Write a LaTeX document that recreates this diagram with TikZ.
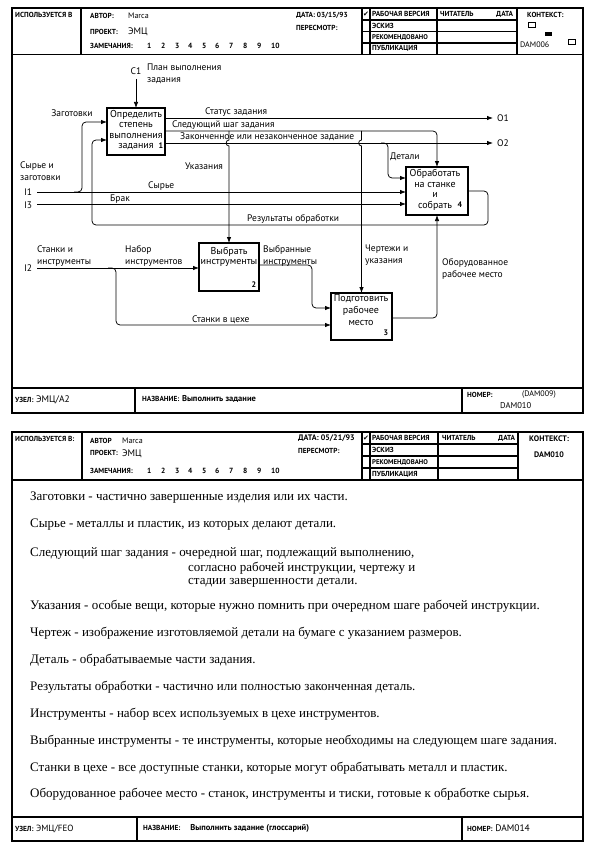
\documentclass[tikz,border=0pt]{standalone}
\usepackage{fontspec}
\setmainfont{PT Sans}
\newfontfamily\gfont{Liberation Serif}
\newfontfamily\symfont{DejaVu Sans}
\usetikzlibrary{arrows.meta}
\begin{document}
\begin{tikzpicture}[x=1pt,y=-1pt,
  frame/.style={line width=1.1pt},
  thinln/.style={line width=0.7pt},
  hdr/.style={font=\fontsize{7.3}{8}\selectfont\bfseries, anchor=west, inner sep=0pt},
  hval/.style={font=\fontsize{8}{9}\selectfont, anchor=west, inner sep=0pt},
  lbl/.style={font=\fontsize{9.5}{11.5}\selectfont, anchor=west, inner sep=0pt, align=left},
  boxtxt/.style={font=\fontsize{10}{10.5}\selectfont, align=center, inner sep=0pt},
  num/.style={font=\fontsize{8}{8}\selectfont\bfseries, inner sep=0pt},
  func/.style={draw, line width=1.2pt, inner sep=0pt, outer sep=0pt},
  arr/.style={line width=0.75pt, -{Latex[length=6pt,width=4.5pt]}},
  gl/.style={font=\gfont\fontsize{13}{14}\selectfont, anchor=west, inner sep=0pt},
  chk/.style={font=\symfont\fontsize{7}{7}\selectfont, inner sep=0pt},
]
\useasboundingbox (0,0) rectangle (593,848);
\fill[white] (0,0) rectangle (593,848);

% ================= TOP FRAME =================
\draw[frame] (12,8) rectangle (583,413);
\draw[frame] (12,54.5) -- (583,54.5);
\draw[frame] (12,388) -- (583,388);
\draw[frame] (81,8) -- (81,54.5);
\draw[frame] (362,8) -- (362,54.5);
\draw[frame] (370,8) -- (370,54.5);
\draw[frame] (437,8) -- (437,54.5);
\draw[frame] (517,8) -- (517,54.5);
\draw[frame] (362,20) -- (517,20);
\draw[frame] (362,31.5) -- (517,31.5);
\draw[frame] (362,43) -- (517,43);
\draw[frame] (135,388) -- (135,413);
\draw[frame] (462,388) -- (462,413);

\node[hdr] (tu) at (15,15) {ИСПОЛЬЗУЕТСЯ В};
\node[hdr] (ta) at (90,16) {АВТОР:};
\node[hval] (tav) at (128,16) {Marca};
\node[hdr] (tp) at (90,32) {ПРОЕКТ:};
\node[hval, font=\fontsize{9.5}{10}\selectfont] (tpv) at (128,32) {ЭМЦ};
\node[hdr] (tz) at (90,46) {ЗАМЕЧАНИЯ:};
\foreach \n/\x in {1/147,2/161,3/175,4/188,5/202,6/215,7/229,8/243,9/257,10/271}
  \node[hdr, font=\fontsize{7.5}{8}\selectfont\bfseries] (tzn\n) at (\x,46) {\n};
\node[hdr] (td) at (296,15) {ДАТА: 03/15/93};
\node[hdr] (tr) at (296,28) {ПЕРЕСМОТР:};
\node[chk] (tchk) at (366,14) {✔};
\node[hdr] (ts1) at (372,14) {РАБОЧАЯ ВЕРСИЯ};
\node[hdr] (ts2) at (372,25.7) {ЭСКИЗ};
\node[hdr, font=\fontsize{6.8}{7}\selectfont\bfseries] (ts3) at (372,37.2) {РЕКОМЕНДОВАНО};
\node[hdr] (ts4) at (372,48.7) {ПУБЛИКАЦИЯ};
\node[hdr] (trd) at (440,14) {ЧИТАТЕЛЬ};
\node[hdr] (trdd) at (496,14) {ДАТА};
\node[hdr] (tk) at (527,15) {КОНТЕКСТ:};
\draw[thinln] (528,22) rectangle (535,27);
\fill (545,32) rectangle (552,36);
\draw[thinln] (568,39) rectangle (575,44);
\node[hval] (tkv) at (520,45) {DAM006};

\node[anchor=west, inner sep=0pt] (tf1) at (15,400) {{\fontsize{7.3}{8}\selectfont\bfseries УЗЕЛ:}\ {\fontsize{9.5}{10}\selectfont ЭМЦ/A2}};
\node[anchor=west, inner sep=0pt] (tf2) at (142,399) {{\fontsize{7.3}{8}\selectfont\bfseries НАЗВАНИЕ:}\ {\fontsize{8.5}{9}\selectfont\bfseries Выполнить задание}};
\node[hdr] (tf3) at (467,395) {НОМЕР:};
\node[hval] (tf4) at (522,395) {(DAM009)};
\node[hval, font=\fontsize{8.5}{9}\selectfont] (tf5) at (500,406) {DAM010};

% ---- function boxes ----
\node[func, minimum width=58pt, minimum height=47pt] (b1) at (136,131.5) {};
\node[func, minimum width=62pt, minimum height=48pt] (b4) at (437,191) {};
\node[func, minimum width=60pt, minimum height=48pt] (b2) at (229,267) {};
\node[func, minimum width=61pt, minimum height=47pt] (b3) at (361.5,316.5) {};

\node[boxtxt] (t1) at (136,130) {Определить\\степень\\выполнения\\задания};
\node[num] (n1) at (161,146) {1};
\node[boxtxt] (t4) at (435,190) {Обработать\\на станке\\и\\собрать};
\node[num] (n4) at (460,205) {4};
\node[boxtxt] (t2) at (229,257) {Выбрать\\инструменты};
\node[num] (n2) at (254,285) {2};
\node[boxtxt, font=\fontsize{10}{12}\selectfont] (t3) at (361,310) {Подготовить\\рабочее\\место};
\node[num] (n3) at (386,333) {3};

% ---- boundary coordinates ----
\coordinate (c1) at (136,79);
\coordinate (i1) at (37,192);
\coordinate (i3) at (37,204);
\coordinate (i2) at (37,268);
\coordinate (o1) at (493,118);
\coordinate (o2) at (493,143);
\coordinate (nxt) at (437,131);
\coordinate (zg) at (82,122);
\coordinate (det) at (388,178);
\coordinate (sc) at (116,325);
\coordinate (vi) at (312,265);
\coordinate (vi2) at (312,308);
\coordinate (ob) at (437,318);
\coordinate (r1) at (488,191);
\coordinate (r2) at (488,225);
\coordinate (r3) at (92,225);
\coordinate (r4) at (92,140);

% ---- connectors ----
\draw[arr] (c1) -- (b1.north);
\draw[arr] (i1) -- (i1 -| b4.west);
\draw[arr] (i3) -- (i3 -| b4.west);
\draw[arr] (i2) -- (i2 -| b2.west);
\draw[arr, rounded corners=4pt] (74,192) -| (zg) -- (b1.west |- zg);
\draw[arr, rounded corners=4pt] (108,268) -| (sc) -- (b3.west |- sc);
\draw[arr] (b1.east |- o1) -- (o1);
\draw[arr] (b1.east |- o2) -- (o2);
\draw[arr, rounded corners=4pt] (b1.east |- nxt) -- (nxt) -- (b4.north);
\draw[arr] (b2.north |- nxt) -- (229,140) to[out=180,in=180,looseness=1.6] (229,146) -- (b2.north);
\draw[arr] (b3.north |- nxt) -- (361.5,140) to[out=180,in=180,looseness=1.6] (361.5,146) -- (b3.north);
\draw[arr, rounded corners=4pt] (381,143) -| (det) -- (b4.west |- det);
\draw[arr, rounded corners=4pt] (b2.east |- vi) -- (vi) -- (vi2) -- (b3.west |- vi2);
\draw[arr, rounded corners=4pt] (b3.east |- ob) -- (ob) -- (b4.south);
\draw[arr, rounded corners=4pt] (b4.east |- r1) -- (r1) -- (r2) -- (r3) -- (r4) -- (b1.west |- r4);

% ---- labels ----
\node[lbl, anchor=center] (lc1) at (136,71) {C1};
\node[lbl, anchor=north west] (lplan) at (147,64) {План выполнения\\задания};
\node[lbl, anchor=center] (lzag) at (72,113) {Заготовки};
\node[lbl] (lsz) at (20,171) {Сырье и\\заготовки};
\node[lbl, anchor=center] (li1) at (28,192) {I1};
\node[lbl, anchor=center] (li3) at (28,205) {I3};
\node[lbl, anchor=center] (li2) at (28,268) {I2};
\node[lbl] (lst) at (205,112) {Статус задания};
\node[lbl] (lsl) at (172,125) {Следующий шаг задания};
\node[lbl] (lzak) at (180,137) {Законченное или незаконченное задание};
\node[lbl] (lsyr) at (148,186) {Сырье};
\node[lbl] (lbr) at (110,199) {Брак};
\node[lbl] (luk) at (185,166) {Указания};
\node[lbl] (ldet) at (390,157) {Детали};
\node[lbl] (lo1) at (497,118) {O1};
\node[lbl] (lo2) at (497,143) {O2};
\node[lbl] (lres) at (247,219) {Результаты обработки};
\node[lbl] (lsi) at (37,256) {Станки и\\инструменты};
\node[lbl] (lnab) at (125,256) {Набор\\инструментов};
\node[lbl] (lvyb) at (263,256) {Выбранные\\инструменты};
\node[lbl] (lche) at (365,255) {Чертежи и\\указания};
\node[lbl] (lobo) at (442,269) {Оборудованное\\рабочее место};
\node[lbl] (lstc) at (192,320) {Станки в цехе};

% ================= BOTTOM FRAME =================
\draw[frame] (12,432) rectangle (583,841);
\draw[frame] (12,480) -- (583,480);
\draw[frame] (12,817) -- (583,817);
\draw[frame] (82,432) -- (82,480);
\draw[frame] (362,432) -- (362,480);
\draw[frame] (370,432) -- (370,480);
\draw[frame] (438,432) -- (438,480);
\draw[frame] (518,432) -- (518,480);
\draw[frame] (362,444) -- (518,444);
\draw[frame] (362,456) -- (518,456);
\draw[frame] (362,468) -- (518,468);
\draw[frame] (137,817) -- (137,841);
\draw[frame] (462,817) -- (462,841);

\node[hdr] (bu) at (15,439) {ИСПОЛЬЗУЕТСЯ В:};
\node[hdr] (ba) at (90,441) {АВТОР};
\node[hval] (bav) at (122,441) {Marca};
\node[hdr] (bp) at (90,453) {ПРОЕКТ:};
\node[hval, font=\fontsize{9.5}{10}\selectfont] (bpv) at (122,454) {ЭМЦ};
\node[hdr] (bz) at (90,471) {ЗАМЕЧАНИЯ:};
\foreach \n/\x in {1/147,2/161,3/175,4/188,5/202,6/215,7/229,8/243,9/257,10/271}
  \node[hdr, font=\fontsize{7.5}{8}\selectfont\bfseries] (bzn\n) at (\x,471) {\n};
\node[hdr, font=\fontsize{8}{9}\selectfont\bfseries] (bd) at (298,438) {ДАТА: 05/21/93};
\node[hdr] (br) at (298,451) {ПЕРЕСМОТР:};
\node[chk] (bchk) at (366,438) {✔};
\node[hdr] (bs1) at (372,438) {РАБОЧАЯ ВЕРСИЯ};
\node[hdr] (bs2) at (372,450) {ЭСКИЗ};
\node[hdr, font=\fontsize{6.8}{7}\selectfont\bfseries] (bs3) at (372,462) {РЕКОМЕНДОВАНО};
\node[hdr] (bs4) at (372,474) {ПУБЛИКАЦИЯ};
\node[hdr] (brd) at (442,438) {ЧИТАТЕЛЬ};
\node[hdr] (brdd) at (498,438) {ДАТА};
\node[hdr, font=\fontsize{8}{9}\selectfont\bfseries] (bk) at (529,439) {КОНТЕКСТ:};
\node[hdr, font=\fontsize{8}{9}\selectfont\bfseries] (bkv) at (534,455) {DAM010};

\node[gl] (g1) at (30,498) {Заготовки - частично завершенные изделия или их части.};
\node[gl] (g2) at (30,525) {Сырье - металлы и пластик, из которых делают детали.};
\node[gl] (g3) at (30,553) {Следующий шаг задания - очередной шаг, подлежащий выполнению,};
\node[gl] (g3b) at (188,568) {согласно рабочей инструкции, чертежу и};
\node[gl] (g3c) at (188,583) {стадии завершенности детали.};
\node[gl] (g4) at (30,606) {Указания - особые вещи, которые нужно помнить при очередном шаге рабочей инструкции.};
\node[gl] (g5) at (30,633) {Чертеж - изображение изготовляемой детали на бумаге с указанием размеров.};
\node[gl] (g6) at (30,660) {Деталь - обрабатываемые части задания.};
\node[gl] (g7) at (30,687) {Результаты обработки - частично или полностью законченная деталь.};
\node[gl] (g8) at (30,714) {Инструменты - набор всех используемых в цехе инструментов.};
\node[gl] (g9) at (30,741) {Выбранные инструменты - те инструменты, которые необходимы на следующем шаге задания.};
\node[gl] (g10) at (30,768) {Станки в цехе - все доступные станки, которые могут обрабатывать металл и пластик.};
\node[gl] (g11) at (30,794) {Оборудованное рабочее место - станок, инструменты и тиски, готовые к обработке сырья.};

\node[anchor=west, inner sep=0pt] (bf1) at (15,829) {{\fontsize{7.3}{8}\selectfont\bfseries УЗЕЛ:}\ {\fontsize{9}{9}\selectfont ЭМЦ/FEO}};
\node[anchor=west, inner sep=0pt] (bf2) at (143,828) {{\fontsize{7.3}{8}\selectfont\bfseries НАЗВАНИЕ:}\quad{\fontsize{8.5}{9}\selectfont\bfseries Выполнить задание (глоссарий)}};
\node[anchor=west, inner sep=0pt] (bf3) at (467,828) {{\fontsize{7.3}{8}\selectfont\bfseries НОМЕР:}\ {\fontsize{9.5}{10}\selectfont DAM014}};
\end{tikzpicture}
\end{document}
